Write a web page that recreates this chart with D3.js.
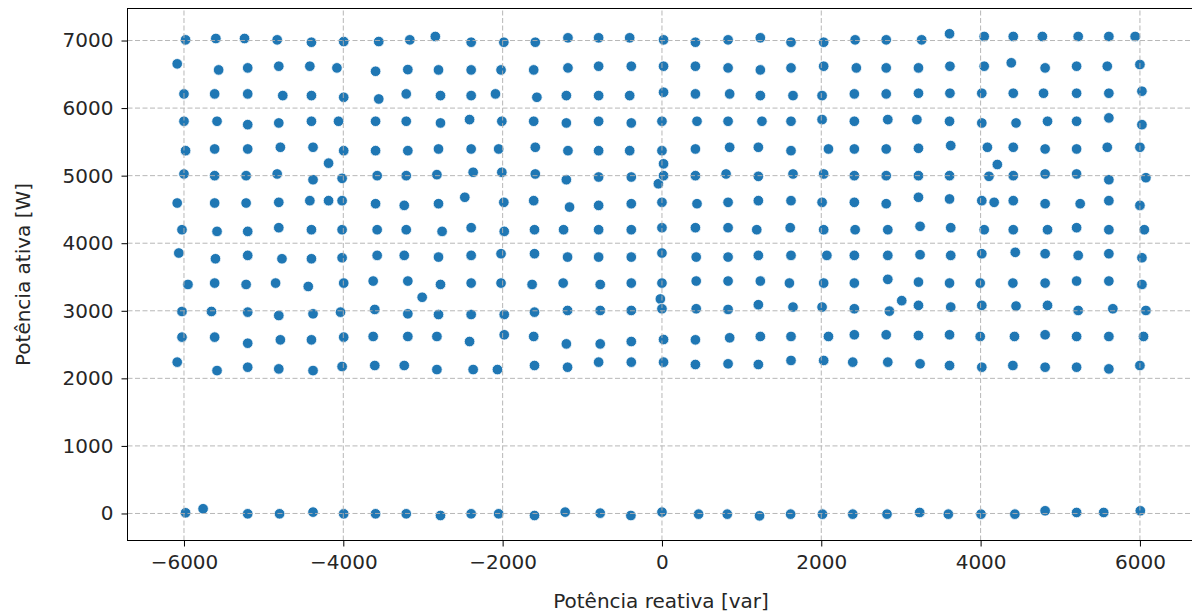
<!DOCTYPE html>
<html lang="en">
	<head>
		<meta charset="utf-8">
		<title>Potência ativa x reativa</title>
		<style type="text/css">
			body { margin: 0; background: #fff; }
			text { font-family: "DejaVu Sans", sans-serif; fill: #262626; }
		</style>
	</head>
	<body>
		<script src="https://d3js.org/d3.v7.min.js"></script>
		<script type="text/javascript">
			//Width and height
			var w = 1192;
			var h = 615;

			//Tick labels
			var xTicks = [-6000, -4000, -2000, 0, 2000, 4000, 6000];
			var yTicks = [0, 1000, 2000, 3000, 4000, 5000, 6000, 7000];

			//Measured points [reactive var, active W], one array per set-point level
			var p7000 = [[-5980,7010],[-5600,7030],[-5240,7030],[-4830,7010],[-4400,6975],[-3995,6985],[-3555,6985],[-3165,7010],[-2845,7060],[-2395,6975],[-1985,6975],[-1590,6975],[-1180,7040],[-795,7040],[-405,7040],[20,7010],[420,6975],[830,7010],[1235,7040],[1620,6975],[2030,6975],[2425,7010],[2815,7010],[3260,7010],[3610,7100],[4045,7060],[4410,7060],[4775,7060],[5225,7060],[5610,7060],[5940,7060]];
			var p6600 = [[-6085,6655],[-5565,6565],[-5200,6595],[-4810,6620],[-4420,6620],[-4080,6595],[-3595,6545],[-3190,6570],[-2805,6565],[-2395,6565],[-2020,6565],[-1610,6565],[-1180,6595],[-795,6620],[-385,6620],[20,6620],[420,6620],[830,6595],[1235,6565],[1620,6595],[2030,6620],[2440,6595],[2815,6595],[3220,6595],[3615,6620],[4045,6620],[4385,6670],[4810,6595],[5205,6620],[5590,6620],[6000,6645]];
			var p6200 = [[-6000,6210],[-5615,6210],[-5200,6210],[-4760,6185],[-4400,6185],[-3995,6160],[-3555,6135],[-3210,6210],[-2780,6185],[-2395,6185],[-2090,6210],[-1570,6160],[-1200,6185],[-795,6185],[-405,6185],[20,6235],[420,6210],[850,6210],[1235,6185],[1645,6185],[2010,6185],[2415,6210],[2815,6210],[3220,6220],[3615,6220],[4015,6220],[4410,6220],[4790,6220],[5205,6220],[5610,6220],[6025,6250]];
			var p5800 = [[-6000,5805],[-5585,5805],[-5200,5755],[-4810,5780],[-4400,5805],[-4060,5805],[-3595,5805],[-3210,5805],[-2780,5780],[-2415,5830],[-2010,5805],[-1610,5805],[-1200,5780],[-795,5805],[-385,5780],[0,5805],[440,5805],[830,5805],[1255,5805],[1620,5805],[2010,5830],[2415,5805],[2835,5830],[3200,5830],[3610,5805],[4015,5780],[4445,5780],[4840,5805],[5205,5805],[5610,5855],[6025,5755]];
			var p5400 = [[-5980,5370],[-5615,5395],[-5200,5395],[-4790,5420],[-4380,5420],[-4185,5185],[-3995,5370],[-3595,5370],[-3190,5370],[-2805,5395],[-2395,5395],[-2050,5395],[-1590,5420],[-1180,5370],[-795,5370],[-405,5370],[0,5370],[20,5175],[420,5395],[850,5420],[1210,5420],[1620,5370],[2090,5395],[2415,5395],[2815,5395],[3220,5405],[3625,5445],[4085,5420],[4210,5165],[4410,5420],[4810,5395],[5205,5395],[5590,5420],[6000,5420]];
			var p5000 = [[-6000,5025],[-5615,5000],[-5220,5000],[-4830,5025],[-4380,4940],[-4015,4960],[-3575,5000],[-3210,5000],[-2825,5015],[-2370,5050],[-2010,5050],[-1590,5025],[-1200,4940],[-795,4980],[-385,4980],[-45,4880],[20,5000],[420,5000],[805,5025],[1210,4990],[1645,5025],[2030,5025],[2415,5000],[2815,5000],[3220,5000],[3610,5000],[4105,4990],[4410,5000],[4810,5025],[5205,5025],[5610,4940],[6075,4970]];
			var p4600 = [[-6085,4595],[-5615,4595],[-5220,4595],[-4810,4605],[-4420,4630],[-4185,4630],[-4015,4630],[-3595,4585],[-3235,4560],[-2805,4585],[-2475,4680],[-1985,4605],[-1610,4630],[-1160,4535],[-795,4560],[-385,4585],[0,4605],[440,4585],[830,4605],[1210,4630],[1620,4630],[2010,4605],[2415,4605],[2815,4585],[3220,4680],[3610,4655],[4015,4630],[4170,4605],[4410,4630],[4810,4585],[5250,4585],[5610,4630],[6000,4560]];
			var p4200 = [[-6025,4200],[-5585,4175],[-5200,4175],[-4810,4230],[-4400,4200],[-4015,4200],[-3575,4200],[-3210,4200],[-2760,4175],[-2395,4230],[-1980,4175],[-1600,4200],[-1235,4200],[-795,4200],[-385,4200],[0,4230],[420,4230],[830,4230],[1190,4200],[1610,4230],[2030,4200],[2425,4200],[2835,4200],[3240,4250],[3625,4230],[4045,4200],[4410,4200],[4840,4200],[5205,4230],[5610,4200],[6055,4200]];
			var p3800 = [[-6065,3855],[-5605,3770],[-5200,3820],[-4770,3770],[-4400,3770],[-4015,3785],[-3575,3820],[-3235,3820],[-2805,3795],[-2395,3820],[-2020,3845],[-1600,3845],[-1185,3795],[-795,3795],[-385,3795],[0,3855],[430,3795],[830,3795],[1210,3820],[1620,3820],[2070,3820],[2415,3820],[2835,3820],[3240,3830],[3625,3820],[4015,3845],[4435,3865],[4810,3845],[5225,3820],[5610,3845],[6025,3785]];
			var p3400 = [[-5950,3390],[-5615,3410],[-5220,3390],[-4850,3410],[-4440,3360],[-3995,3410],[-3625,3440],[-3190,3440],[-3010,3200],[-2780,3390],[-2395,3410],[-2020,3410],[-1630,3390],[-1240,3410],[-775,3390],[-385,3410],[0,3410],[-20,3175],[430,3440],[830,3440],[1235,3440],[1600,3410],[2030,3410],[2415,3410],[2835,3465],[3010,3150],[3220,3425],[3610,3410],[3995,3410],[4405,3410],[4810,3410],[5205,3440],[5610,3440],[6025,3390]];
			var p3000 = [[-6025,2990],[-5655,2990],[-5200,2980],[-4810,2930],[-4380,2955],[-4035,2980],[-3605,3020],[-3190,2955],[-2805,2945],[-2395,2945],[-1980,2945],[-1600,2980],[-1185,3005],[-775,3005],[-385,3005],[0,3030],[430,3030],[830,3020],[1210,3090],[1645,3055],[2010,3055],[2415,3030],[2855,2995],[3220,3080],[3625,3055],[4015,3080],[4445,3070],[4840,3080],[5225,3005],[5660,3030],[6075,3005]];
			var p2600 = [[-6025,2610],[-5615,2610],[-5200,2520],[-4790,2570],[-4400,2570],[-3995,2610],[-3625,2620],[-3190,2620],[-2825,2620],[-2415,2545],[-1980,2645],[-1610,2620],[-1200,2510],[-775,2510],[-385,2545],[20,2575],[420,2570],[850,2600],[1235,2620],[1620,2620],[2090,2620],[2415,2645],[2815,2645],[3220,2635],[3610,2645],[3995,2620],[4425,2620],[4810,2645],[5205,2620],[5610,2620],[6045,2620]];
			var p2200 = [[-6085,2240],[-5585,2115],[-5200,2165],[-4810,2140],[-4380,2115],[-4015,2175],[-3605,2190],[-3235,2190],[-2825,2130],[-2370,2130],[-2065,2130],[-1600,2190],[-1185,2165],[-795,2240],[-385,2240],[20,2240],[420,2205],[830,2215],[1210,2205],[1620,2265],[2030,2265],[2395,2240],[2835,2240],[3240,2215],[3610,2190],[4015,2165],[4405,2190],[4810,2165],[5205,2165],[5610,2140],[6000,2190]];
			var p0 = [[-5980,10],[-5760,70],[-5200,-5],[-4800,-5],[-4380,20],[-3995,-5],[-3595,-5],[-3210,-5],[-2780,-30],[-2395,-5],[-2050,-5],[-1600,-30],[-1215,20],[-775,5],[-390,-30],[0,20],[460,-10],[820,-10],[1225,-35],[1615,-10],[2015,-10],[2395,-10],[2825,-10],[3235,15],[3595,-10],[4005,-10],[4430,-10],[4810,40],[5205,15],[5545,15],[6005,40]];

			var dataset = [].concat(p7000, p6600, p6200, p5800, p5400, p5000, p4600,
									p4200, p3800, p3400, p3000, p2600, p2200, p0);

			//Plot box
			var boxL = 127.5, boxR = 1194.5, boxT = 8.5, boxB = 540.5;

			//Create scale functions
			var xScale = d3.scaleLinear()
								 .domain([-6709, 6685])
								 .range([boxL, boxR]);

			var yScale = d3.scaleLinear()
								 .domain([-400, 7474])
								 .range([boxB, boxT]);

			//Create SVG element
			var svg = d3.select("body")
						.append("svg")
						.attr("width", w)
						.attr("height", h);

			//Points
			svg.append("g")
			   .selectAll("circle")
			   .data(dataset)
			   .enter()
			   .append("circle")
			   .attr("cx", function(d) { return xScale(d[0]); })
			   .attr("cy", function(d) { return yScale(d[1]); })
			   .attr("r", 5.3)
			   .attr("fill", "#1f77b4")
			   .attr("stroke", "#ffffff")
			   .attr("stroke-width", 0.8);

			//Grid (drawn over the points, as in the original)
			var grid = svg.append("g")
						  .attr("stroke", "#b0b0b0")
						  .attr("stroke-width", 1)
						  .attr("stroke-dasharray", "5,2.5")
						  .attr("opacity", 0.9);

			grid.selectAll("line.gx")
				.data(xTicks)
				.enter()
				.append("line")
				.attr("class", "gx")
				.attr("x1", function(d) { return xScale(d); })
				.attr("x2", function(d) { return xScale(d); })
				.attr("y1", boxB)
				.attr("y2", boxT);

			grid.selectAll("line.gy")
				.data(yTicks)
				.enter()
				.append("line")
				.attr("class", "gy")
				.attr("y1", function(d) { return yScale(d); })
				.attr("y2", function(d) { return yScale(d); })
				.attr("x1", boxL)
				.attr("x2", boxR);

			//Axes
			var fmt = d3.format("d");

			var xAxis = svg.append("g")
						   .attr("transform", "translate(0," + boxB + ")")
						   .call(d3.axisBottom(xScale).tickValues(xTicks).tickFormat(fmt)
								 .tickSize(6).tickPadding(8).tickSizeOuter(0));

			var yAxis = svg.append("g")
						   .attr("transform", "translate(" + boxL + ",0)")
						   .call(d3.axisLeft(yScale).tickValues(yTicks).tickFormat(fmt)
								 .tickSize(6).tickPadding(8).tickSizeOuter(0));

			[xAxis, yAxis].forEach(function(a) {
				a.select(".domain").remove();
				a.selectAll("line").attr("stroke", "#000").attr("stroke-width", 1);
				a.selectAll("text")
				 .attr("font-family", "DejaVu Sans, sans-serif")
				 .attr("font-size", "20px")
				 .attr("fill", "#262626");
			});

			//Frame
			svg.append("rect")
			   .attr("x", boxL)
			   .attr("y", boxT)
			   .attr("width", boxR - boxL)
			   .attr("height", boxB - boxT)
			   .attr("fill", "none")
			   .attr("stroke", "#000")
			   .attr("stroke-width", 1);

			//Axis labels
			svg.append("text")
			   .attr("x", (boxL + boxR) / 2)
			   .attr("y", 608)
			   .attr("text-anchor", "middle")
			   .attr("font-size", "20px")
			   .text("Potência reativa [var]");

			svg.append("text")
			   .attr("transform", "translate(30," + ((boxT + boxB) / 2) + ") rotate(-90)")
			   .attr("text-anchor", "middle")
			   .attr("font-size", "20px")
			   .text("Potência ativa [W]");
		</script>
	</body>
</html>
